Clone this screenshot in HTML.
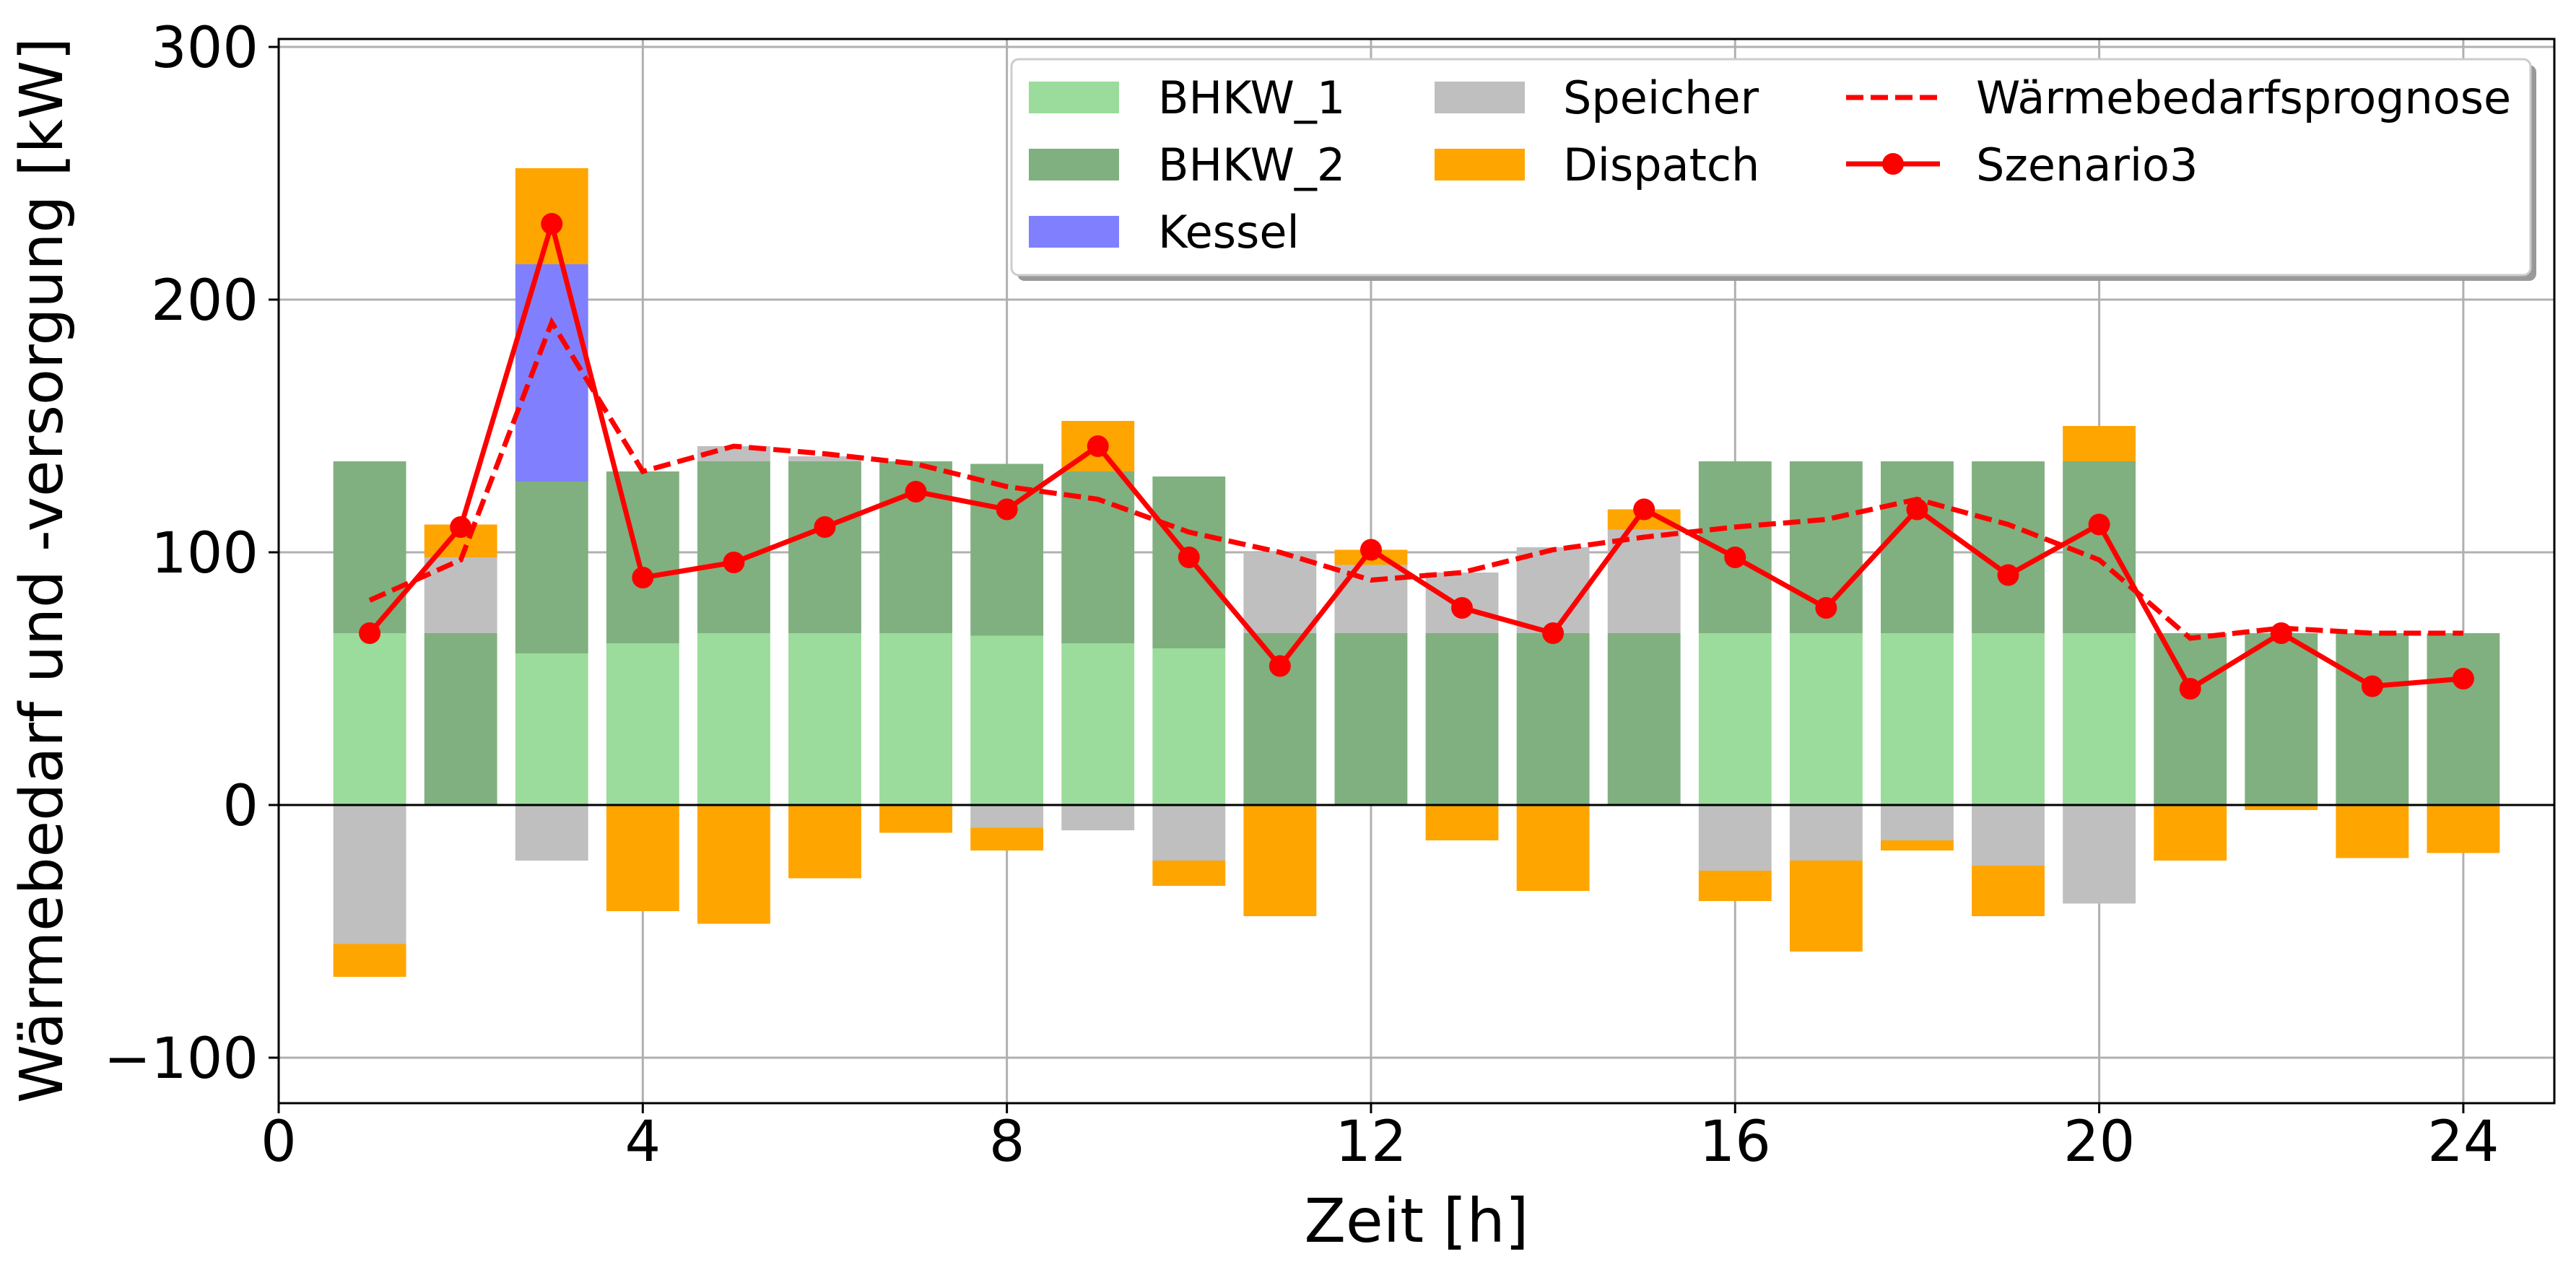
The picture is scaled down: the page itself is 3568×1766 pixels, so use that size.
<!DOCTYPE html>
<html><head><meta charset="utf-8"><style>
html,body{margin:0;padding:0;background:#fff;}
svg{display:block;font-family:"DejaVu Sans","Liberation Sans",sans-serif;}
</style></head><body>
<svg id="chart" width="3568" height="1766" viewBox="0 0 3568 1766">
<g id="grid"></g>
<g id="bars"></g>
<g id="lines"></g>
<g id="axes"></g>
<text x="1962" y="1720" font-size="84" text-anchor="middle">Zeit [h]</text>
<text transform="translate(86,790) rotate(-90)" font-size="82" text-anchor="middle">Wärmebedarf und -versorgung [kW]</text>
<g id="legend">
 <rect x="1409" y="90" width="2104" height="299" rx="10" fill="#999"/>
 <rect x="1401" y="82" width="2104" height="299" rx="10" fill="#fff" stroke="#ccc" stroke-width="3"/>
 <g><rect x="1425" y="113" width="125" height="44" fill="#9bdb9b"/><text x="1604" y="157" font-size="62">BHKW_1</text></g>
 <g><rect x="1425" y="206" width="125" height="44" fill="#80b07f"/><text x="1604" y="250" font-size="62">BHKW_2</text></g>
 <g><rect x="1425" y="299" width="125" height="44" fill="#8080ff"/><text x="1604" y="343" font-size="62">Kessel</text></g>
 <g><rect x="1987" y="113" width="125" height="44" fill="#bfbfbf"/><text x="2165" y="157" font-size="62">Speicher</text></g>
 <g><rect x="1987" y="206" width="125" height="44" fill="#ffa500"/><text x="2165" y="250" font-size="62">Dispatch</text></g>
 <g><line x1="2557" y1="135" x2="2687" y2="135" stroke="red" stroke-width="7" stroke-dasharray="24,10"/><text x="2737" y="157" font-size="62">Wärmebedarfsprognose</text></g>
 <g><line x1="2557" y1="227" x2="2687" y2="227" stroke="red" stroke-width="7"/><circle cx="2622" cy="227" r="15" fill="red"/><text x="2737" y="250" font-size="62">Szenario3</text></g>
</g>
</svg>
<script>
const hours = [1,2,3,4,5,6,7,8,9,10,11,12,13,14,15,16,17,18,19,20,21,22,23,24];
const bhkw1 = [68,0,60,64,68,68,68,67,64,62,0,0,0,0,0,68,68,68,68,68,0,0,0,0];
const bhkw2 = [68,68,68,68,68,68,68,68,68,68,68,68,68,68,68,68,68,68,68,68,68,68,68,68];
const kessel = [0,0,86,0,0,0,0,0,0,0,0,0,0,0,0,0,0,0,0,0,0,0,0,0];
const speicher = [-55,30,-22,0,6,2,0,-9,-10,-22,32,27,24,34,41,-26,-22,-14,-24,-39,0,0,0,0];
const dispatch = [-13,13,38,-42,-47,-29,-11,-9,20,-10,-44,6,-14,-34,8,-12,-36,-4,-20,14,-22,-2,-21,-19];
const prognose = [81,97,191,132,142,139,135,126,121,108,100,89,92,101,106,110,113,121,111,97,66,70,68,68];
const szenario = [68,110,230,90,96,110,124,117,142,98,55,101,78,68,117,98,78,117,91,111,46,68,47,50];
const xTicks = [0,4,8,12,16,20,24];
const yTicks = [-100,0,100,200,300];

const L=386,R=3538,T=54,B=1528;
const X=v=>L+(v-0)*(R-L)/25;
const Y=v=>1115-v*3.5;
const NS='http://www.w3.org/2000/svg';
function mk(tag,attrs,parent){const e=document.createElementNS(NS,tag);for(const k in attrs)e.setAttribute(k,attrs[k]);parent.appendChild(e);return e;}
const grid=document.getElementById('grid'),bars=document.getElementById('bars'),lines=document.getElementById('lines'),axes=document.getElementById('axes');

xTicks.forEach(t=>{
 const g=mk('line',{x1:X(t),x2:X(t),y1:T,y2:B,stroke:'#b0b0b0','stroke-width':3},grid);
 
 
 const tk=mk('line',{x1:X(t),x2:X(t),y1:B,y2:B+14,stroke:'#000','stroke-width':3},axes);
 
 
 const lb=mk('text',{x:X(t),y:1608,'font-size':78,'text-anchor':'middle'},axes);
 lb.textContent=t;
 
 
});
yTicks.forEach(t=>{
 const g=mk('line',{x1:L,x2:R,y1:Y(t),y2:Y(t),stroke:'#b0b0b0','stroke-width':3},grid);
 
 
 const tk=mk('line',{x1:L-14,x2:L,y1:Y(t),y2:Y(t),stroke:'#000','stroke-width':3},axes);
 
 
 const lb=mk('text',{x:L-28,y:Y(t)+28,'font-size':78,'text-anchor':'end'},axes);
 lb.textContent=t<0?'\u2212'+(-t):t;
 
 
});

const bw=0.8*(R-L)/25;
function bar(h,y0,y1,color,name){
 if(y0===y1)return;
 const top=Math.min(Y(y0),Y(y1)),hh=Math.abs(Y(y0)-Y(y1));
 const r=mk('rect',{x:X(h)-bw/2,y:top,width:bw,height:hh,fill:color},bars);
 
 
}
hours.forEach((h,i)=>{
 let p=0,n=0;
 bar(h,p,p+bhkw1[i],'#9bdb9b','bar-bhkw1');p+=bhkw1[i];
 bar(h,p,p+bhkw2[i],'#80b07f','bar-bhkw2');p+=bhkw2[i];
 bar(h,p,p+kessel[i],'#8080ff','bar-kessel');p+=kessel[i];
 if(speicher[i]>=0){bar(h,p,p+speicher[i],'#bfbfbf','bar-speicher');p+=speicher[i];}
 else{bar(h,n,n+speicher[i],'#bfbfbf','bar-speicher');n+=speicher[i];}
 if(dispatch[i]>=0){bar(h,p,p+dispatch[i],'#ffa500','bar-dispatch');p+=dispatch[i];}
 else{bar(h,n,n+dispatch[i],'#ffa500','bar-dispatch');n+=dispatch[i];}
});

const zl=mk('line',{x1:L,x2:R,y1:Y(0),y2:Y(0),stroke:'#000','stroke-width':3},lines);



const pp=mk('polyline',{points:hours.map((h,i)=>X(h)+','+Y(prognose[i])).join(' '),fill:'none',stroke:'red','stroke-width':7,'stroke-dasharray':'24,10'},lines);


const sp=mk('polyline',{points:hours.map((h,i)=>X(h)+','+Y(szenario[i])).join(' '),fill:'none',stroke:'red','stroke-width':7},lines);


hours.forEach((h,i)=>{
 const c=mk('circle',{cx:X(h),cy:Y(szenario[i]),r:15,fill:'red'},lines);
 
 
});

const fr=mk('rect',{x:L,y:T,width:R-L,height:B-T,fill:'none',stroke:'#000','stroke-width':3},axes);


</script>
</body></html>
